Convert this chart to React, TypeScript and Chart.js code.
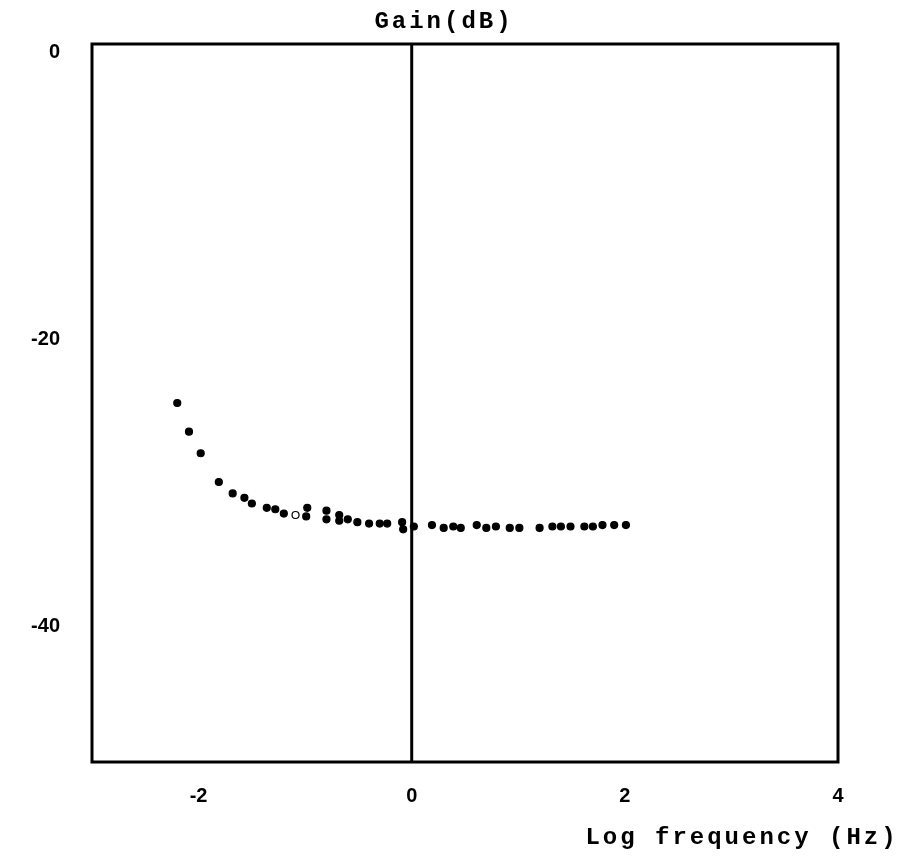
import React, { useEffect, useRef } from "react";
import { Chart, registerables } from "chart.js";

Chart.register(...registerables);

// Measured gain versus log frequency
const logFrequency = [
  -2.2, -2.09, -1.98, -1.81, -1.68, -1.57, -1.5, -1.36, -1.28, -1.2, -1.09,
  -0.98, -0.99, -0.8, -0.8, -0.68, -0.68, -0.6, -0.51, -0.4, -0.3, -0.23,
  -0.09, -0.08, 0.02, 0.19, 0.3, 0.39, 0.46, 0.61, 0.7, 0.79, 0.92, 1.01,
  1.2, 1.32, 1.4, 1.49, 1.62, 1.7, 1.79, 1.9, 2.01,
];
const gainDb = [
  -25.0, -27.0, -28.5, -30.5, -31.3, -31.6, -32.0, -32.3, -32.4, -32.7, -32.8,
  -32.3, -32.9, -32.5, -33.1, -32.8, -33.2, -33.1, -33.3, -33.4, -33.4, -33.4,
  -33.3, -33.8, -33.6, -33.5, -33.7, -33.6, -33.7, -33.5, -33.7, -33.6, -33.7,
  -33.7, -33.7, -33.6, -33.6, -33.6, -33.6, -33.6, -33.5, -33.5, -33.5,
];
// one reading is plotted as an open circle
const openPointIndex = 10;

const xTickValues = [-2, 0, 2, 4];
const yTickValues = [0, -20, -40];
const xRange = [-3, 4];
const yRange = [-50, 0];

const yTitle = "Gain(dB)";
const xTitle = "Log frequency (Hz)";

const tickFont = { family: "'Liberation Sans', Arial, sans-serif", size: 20, weight: "bold" as const };

// Frame around the plot, the vertical line at zero, and the typewriter-style titles
const framePlugin = {
  id: "frame",
  beforeDatasetsDraw(chart: Chart) {
    const { ctx, chartArea, scales } = chart;
    ctx.save();
    ctx.strokeStyle = "#000";
    ctx.lineWidth = 3;
    ctx.strokeRect(chartArea.left, chartArea.top, chartArea.right - chartArea.left, chartArea.bottom - chartArea.top);
    const x0 = scales.x.getPixelForValue(0);
    ctx.beginPath();
    ctx.moveTo(x0, chartArea.top);
    ctx.lineTo(x0, chartArea.bottom);
    ctx.stroke();
    ctx.restore();
  },
  afterDraw(chart: Chart) {
    const { ctx } = chart;
    ctx.save();
    ctx.fillStyle = "#000";
    ctx.font = "bold 24px 'Liberation Mono', 'Courier New', monospace";
    (ctx as any).letterSpacing = "3px";
    ctx.textAlign = "center";
    ctx.textBaseline = "middle";
    ctx.fillText(yTitle, 444, 22);
    ctx.fillText(xTitle, 742, 838);
    ctx.restore();
  },
};

export default function App() {
  const canvasRef = useRef<HTMLCanvasElement | null>(null);

  useEffect(() => {
    document.body.style.margin = "0";
    const canvas = canvasRef.current;
    if (!canvas) return;
    const chart = new Chart(canvas, {
      type: "scatter",
      data: {
        datasets: [
          {
            data: logFrequency.map((x, i) => ({ x, y: gainDb[i] })),
            pointRadius: 3.5,
            pointBorderWidth: 1.2,
            pointBorderColor: "#000",
            pointBackgroundColor: logFrequency.map((_, i) => (i === openPointIndex ? "#fff" : "#000")),
          },
        ],
      },
      options: {
        responsive: false,
        animation: false,
        layout: { padding: { top: 44, right: 83, left: 0, bottom: 0 } },
        plugins: { legend: { display: false }, tooltip: { enabled: false } },
        scales: {
          x: {
            type: "linear",
            min: xRange[0],
            max: xRange[1],
            afterBuildTicks: (s: any) => {
              s.ticks = xTickValues.map((value) => ({ value }));
            },
            afterFit: (s: any) => {
              s.height = 96;
            },
            grid: { display: false, drawTicks: false },
            border: { display: false },
            ticks: { color: "#000", font: tickFont, padding: 22, maxRotation: 0, autoSkip: false },
          },
          y: {
            type: "linear",
            min: yRange[0],
            max: yRange[1],
            afterBuildTicks: (s: any) => {
              s.ticks = yTickValues.map((value) => ({ value }));
            },
            afterFit: (s: any) => {
              s.width = 92;
            },
            grid: { display: false, drawTicks: false },
            border: { display: false },
            ticks: { color: "#000", font: tickFont, padding: 32, labelOffset: 8, autoSkip: false },
          },
        },
      },
      plugins: [framePlugin],
    });
    return () => chart.destroy();
  }, []);

  return (
    <div style={{ width: 921, height: 858, background: "#fff" }}>
      <canvas ref={canvasRef} width={921} height={858} />
    </div>
  );
}
